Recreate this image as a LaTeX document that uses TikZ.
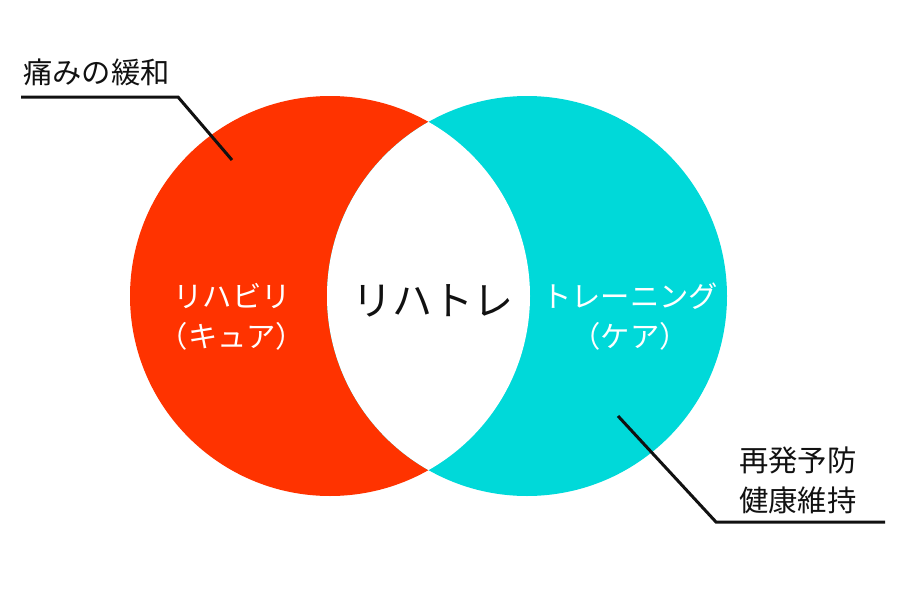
\documentclass[tikz,border=0pt]{standalone}
\usepackage{fontspec}
\usepackage{xcolor}
\setmainfont{Noto Sans CJK JP}
\definecolor{vred}{HTML}{ff3300}
\definecolor{vcyan}{HTML}{00d9d9}
\definecolor{vdarkgray}{HTML}{111111}

\begin{document}
\begin{tikzpicture}[x=0.75pt,y=-0.75pt]
		\useasboundingbox (0,0) rectangle (918,600);
		\coordinate (L) at (330,296);
		\coordinate (R) at (527,296);
		\fill[color=vred] (L) circle (200);
		\fill[color=vcyan] (R) circle (200);
		\begin{scope}
			\clip (L) circle (200);
			\fill[color=white] (R) circle (200);
		\end{scope}
		\node[text=white, font=\fontsize{22}{30}\selectfont, align=center] (cure) at (232,317) {リハビリ\\（キュア）};
		\node[text=white, font=\fontsize{22}{30}\selectfont, align=center] (care) at (630,317) {トレーニング\\（ケア）};
		\node[text=vdarkgray, font=\fontsize{30}{36}\selectfont] (rehatore) at (433,301) {リハトレ};
		\node[text=vdarkgray, font=\fontsize{22}{30}\selectfont, anchor=west, inner sep=0] (pain) at (23,72) {痛みの緩和};
		\node[text=vdarkgray, font=\fontsize{22}{30}\selectfont, anchor=west, inner sep=0, align=left] (prevent) at (739,480) {再発予防\\健康維持};
		\coordinate (A) at (21,97);
		\coordinate (B) at (178,97);
		\coordinate (C) at (232,160);
		\coordinate (D) at (618,416);
		\coordinate (E) at (716,522);
		\coordinate (F) at (885,522);
		\draw[color=vdarkgray, line width=2.25pt] (A) -- (B) -- (C);
		\draw[color=vdarkgray, line width=2.25pt] (D) -- (E) -- (F);
	\end{tikzpicture}
\end{document}
